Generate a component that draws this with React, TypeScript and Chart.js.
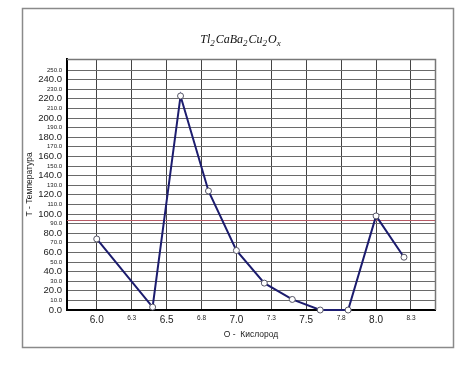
import React, { useEffect, useRef } from "react";
import { Chart, registerables } from "chart.js";

Chart.register(...registerables);

// ---- data ----
const OXYGEN = [6.0, 6.4, 6.6, 6.8, 7.0, 7.2, 7.4, 7.6, 7.8, 8.0, 8.2];
const TEMPERATURE = [74, 3, 223, 124, 62, 28, 11, 0, 0, 98, 55];
const REFERENCE_T = 94;

const X_TICKS = [6.0, 6.25, 6.5, 6.75, 7.0, 7.25, 7.5, 7.75, 8.0, 8.25];
const X_TICK_LABELS = ["6.0", "6.3", "6.5", "6.8", "7.0", "7.3", "7.5", "7.8", "8.0", "8.3"];
const Y_TICKS = [0, 10, 20, 30, 40, 50, 60, 70, 80, 90, 100, 110, 120, 130, 140, 150, 160, 170, 180, 190, 200, 210, 220, 230, 240, 250];
const X_MIN = 5.787;
const X_MAX = 8.422;
const Y_MIN = 0;
const Y_MAX = 261.5;

const TITLE_PARTS: [string, boolean][] = [
  ["Tl", false], ["2", true], ["CaBa", false], ["2", true], ["Cu", false], ["2", true], ["O", false], ["x", true],
];
const Y_TITLE = "T - Температура";
const X_TITLE = "O -  Кислород";

const SANS = "'Liberation Sans', Arial, sans-serif";
const SERIF = "'Liberation Serif', 'Times New Roman', serif";

const framePlugin = {
  id: "frameAndExtras",
  beforeDraw(chart: any) {
    const ctx = chart.ctx;
    ctx.save();
    ctx.strokeStyle = "#8a8a8a";
    ctx.lineWidth = 1.5;
    ctx.strokeRect(22.5, 8.5, 431, 339);
    ctx.restore();
  },
  beforeDatasetsDraw(chart: any) {
    const { ctx, chartArea, scales } = chart;
    ctx.save();
    ctx.strokeStyle = "#777";
    ctx.lineWidth = 1.5;
    ctx.beginPath();
    ctx.moveTo(chartArea.left, chartArea.top + 0.5);
    ctx.lineTo(chartArea.right + 0.5, chartArea.top + 0.5);
    ctx.lineTo(chartArea.right + 0.5, chartArea.bottom);
    ctx.stroke();
    const y = Math.round(scales.y.getPixelForValue(REFERENCE_T)) + 0.5;
    ctx.strokeStyle = "#b85a66";
    ctx.lineWidth = 1;
    ctx.beginPath();
    ctx.moveTo(chartArea.left, y);
    ctx.lineTo(chartArea.right, y);
    ctx.stroke();
    ctx.restore();
  },
  afterDraw(chart: any) {
    const ctx = chart.ctx;
    ctx.save();
    ctx.fillStyle = "#111";
    ctx.textBaseline = "alphabetic";
    const big = "italic 12px " + SERIF;
    const small = "italic 9px " + SERIF;
    let total = 0;
    for (const [t, sub] of TITLE_PARTS) {
      ctx.font = sub ? small : big;
      total += ctx.measureText(t).width + (sub ? 1 : 0);
    }
    let x = 241 - total / 2;
    const base = 43;
    for (const [t, sub] of TITLE_PARTS) {
      ctx.font = sub ? small : big;
      ctx.fillText(t, x, sub ? base + 3 : base);
      x += ctx.measureText(t).width + (sub ? 1 : 0);
    }
    ctx.restore();
  },
};

export default function App() {
  const ref = useRef<HTMLCanvasElement | null>(null);
  useEffect(() => {
    document.body.style.margin = "0";
    const canvas = ref.current!;
    const chart = new Chart(canvas, {
      type: "scatter",
      data: {
        datasets: [
          {
            data: OXYGEN.map((o, i) => ({ x: o, y: TEMPERATURE[i] })),
            showLine: true,
            borderColor: "#1c1c6e",
            borderWidth: 2,
            pointRadius: 3,
            pointBackgroundColor: "#ffffff",
            pointBorderColor: "#555566",
            pointBorderWidth: 1,
            clip: 8,
          } as any,
        ],
      },
      plugins: [framePlugin],
      options: {
        animation: false,
        responsive: false,
        events: [],
        layout: { padding: { left: 22, top: 59, right: 39, bottom: 22 } },
        plugins: { legend: { display: false }, title: { display: false }, tooltip: { enabled: false } },
        scales: {
          x: {
            type: "linear",
            min: X_MIN,
            max: X_MAX,
            afterBuildTicks: (s: any) => { s.ticks = X_TICKS.map((v) => ({ value: v })); },
            afterFit: (s: any) => { s.height = 38; },
            grid: { color: "#444", lineWidth: 1, drawTicks: false },
            border: { color: "#000", width: 2 },
            ticks: {
              autoSkip: false,
              maxRotation: 0,
              padding: 4,
              color: "#222",
              callback: (_v: any, i: number) => X_TICK_LABELS[i],
              font: (c: any) => ({ family: SANS, size: c.index % 2 === 0 ? 10 : 6.5 }),
            },
            title: {
              display: true,
              text: X_TITLE,
              color: "#222",
              font: { family: SANS, size: 8.5 },
              padding: { top: 0, bottom: 8 },
            },
          },
          y: {
            type: "linear",
            min: Y_MIN,
            max: Y_MAX,
            afterBuildTicks: (s: any) => { s.ticks = Y_TICKS.map((v) => ({ value: v })); },
            afterFit: (s: any) => { s.width = 45; },
            grid: { color: "#6a6a6a", lineWidth: 1, drawTicks: false },
            border: { color: "#000", width: 2 },
            ticks: {
              autoSkip: false,
              padding: 5,
              color: "#222",
              callback: (v: any) => Number(v).toFixed(1),
              font: (c: any) => ({ family: SANS, size: c.tick && c.tick.value % 20 === 0 ? 9.5 : 6 }),
            },
            title: {
              display: true,
              text: Y_TITLE,
              color: "#222",
              font: { family: SANS, size: 8.5 },
              padding: { top: 3, bottom: 0 },
            },
          },
        },
      } as any,
    });
    return () => chart.destroy();
  }, []);
  return (
    <div style={{ width: 474, height: 370, background: "#fff" }}>
      <canvas ref={ref} width={474} height={370} style={{ display: "block" }} />
    </div>
  );
}
